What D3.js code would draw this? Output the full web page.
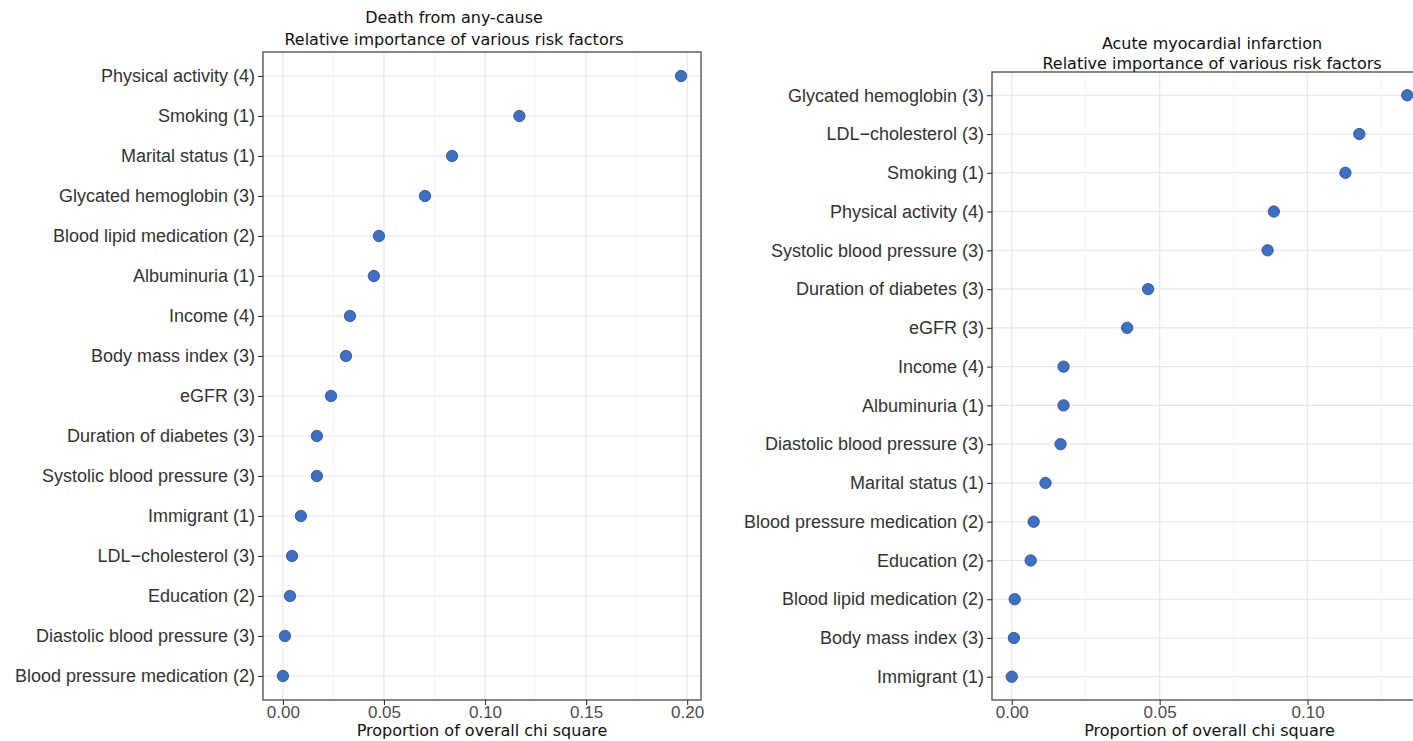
<!DOCTYPE html>
<html>
<head>
<meta charset="utf-8">
<script src="https://cdn.jsdelivr.net/npm/d3@7"></script>
<style>
  body { margin: 0; background: #fff; }
  svg { display: block; font-family: "DejaVu Sans", sans-serif; }
  .grid-major line { stroke: #e6e6e6; stroke-width: 1.1; }
  .grid-minor line { stroke: #f2f2f2; stroke-width: 0.6; }
  .ylab { fill: #333; font-size: 18px; }
  .xlab { fill: #4d4d4d; font-size: 17px; }
  .title { fill: #111; font-size: 16px; }
  .axis-title { fill: #111; font-size: 16px; }
</style>
</head>
<body>
<svg id="chart" width="1413" height="741"></svg>
<script>
'use strict'

// death from any cause
const deathFactors = [
  'Physical activity (4)', 'Smoking (1)', 'Marital status (1)', 'Glycated hemoglobin (3)',
  'Blood lipid medication (2)', 'Albuminuria (1)', 'Income (4)', 'Body mass index (3)',
  'eGFR (3)', 'Duration of diabetes (3)', 'Systolic blood pressure (3)', 'Immigrant (1)',
  'LDL\u2212cholesterol (3)', 'Education (2)', 'Diastolic blood pressure (3)', 'Blood pressure medication (2)'
]
const deathValues = [0.197, 0.117, 0.0837, 0.0703, 0.0475, 0.045, 0.0332, 0.0312,
  0.0238, 0.0168, 0.0168, 0.0089, 0.0045, 0.0035, 0.001, 0.0]
const deathTicks = [0, 0.05, 0.10, 0.15, 0.20]

// acute myocardial infarction
const amiFactors = [
  'Glycated hemoglobin (3)', 'LDL\u2212cholesterol (3)', 'Smoking (1)', 'Physical activity (4)',
  'Systolic blood pressure (3)', 'Duration of diabetes (3)', 'eGFR (3)', 'Income (4)',
  'Albuminuria (1)', 'Diastolic blood pressure (3)', 'Marital status (1)', 'Blood pressure medication (2)',
  'Education (2)', 'Blood lipid medication (2)', 'Body mass index (3)', 'Immigrant (1)'
]
const amiValues = [0.1337, 0.1175, 0.1128, 0.0886, 0.0865, 0.0461, 0.039, 0.0175,
  0.0175, 0.0165, 0.0114, 0.0074, 0.0064, 0.001, 0.0007, 0.0]
const amiTicks = [0, 0.05, 0.10]

const titleLine2 = 'Relative importance of various risk factors'
const xTitle = 'Proportion of overall chi square'

const svg = d3.select('#chart')

function panel(opts) {
  const {factors, values, ticks, left, right, top, bottom, title, titleX, titleY, titleGap} = opts
  const g = svg.append('g')

  const ext = d3.extent(values)
  const pad = (ext[1] - ext[0]) * 0.05
  const x = d3.scaleLinear().domain([ext[0] - pad, ext[1] + pad]).range([left, right])

  // ggplot style discrete scale with 0.6 expansion
  const n = factors.length
  const step = (bottom - top) / (n - 1 + 1.2)
  const y = d3.scalePoint().domain(factors).range([top + 0.6 * step, bottom - 0.6 * step])

  const minor = ticks.slice(0, -1).map((t, i) => (t + ticks[i + 1]) / 2)
  const last = ticks[ticks.length - 1], prev = ticks[ticks.length - 2]
  if (last + (last - prev) / 2 < x.domain()[1]) minor.push(last + (last - prev) / 2)

  g.append('g').attr('class', 'grid-minor')
    .selectAll('line').data(minor).enter().append('line')
    .attr('x1', d => x(d)).attr('x2', d => x(d)).attr('y1', top).attr('y2', bottom)

  g.append('g').attr('class', 'grid-major')
    .selectAll('line').data(ticks).enter().append('line')
    .attr('x1', d => x(d)).attr('x2', d => x(d)).attr('y1', top).attr('y2', bottom)

  g.append('g').attr('class', 'grid-major')
    .selectAll('line').data(factors).enter().append('line')
    .attr('x1', left).attr('x2', right).attr('y1', d => y(d)).attr('y2', d => y(d))

  g.append('rect')
    .attr('x', left).attr('y', top)
    .attr('width', right - left).attr('height', bottom - top)
    .attr('fill', 'none').attr('stroke', '#555').attr('stroke-width', 1.4)

  const yAxis = g.append('g')
    .attr('transform', `translate(${left},0)`)
    .call(d3.axisLeft(y).tickSize(5).tickPadding(3))
  yAxis.select('.domain').remove()
  yAxis.selectAll('line').attr('stroke', '#333').attr('stroke-width', 1.1)
  yAxis.selectAll('text').attr('class', 'ylab').attr('fill', null).attr('font-family', null).attr('font-size', null)

  const xAxis = g.append('g')
    .attr('transform', `translate(0,${bottom})`)
    .call(d3.axisBottom(x).tickValues(ticks).tickFormat(d3.format('.2f')).tickSize(5).tickPadding(1))
  xAxis.select('.domain').remove()
  xAxis.selectAll('line').attr('stroke', '#333').attr('stroke-width', 1.1)
  xAxis.selectAll('text').attr('class', 'xlab').attr('fill', null).attr('font-family', null).attr('font-size', null)

  g.append('g').selectAll('circle')
    .data(factors.map((f, i) => ({f, v: values[i]})))
    .enter().append('circle')
    .attr('cx', d => x(d.v))
    .attr('cy', d => y(d.f))
    .attr('r', 5.7)
    .attr('fill', '#3d6fc4')
    .attr('stroke', '#2c4c88')
    .attr('stroke-width', 0.8)

  g.append('text').attr('class', 'title')
    .attr('x', titleX).attr('y', titleY).attr('text-anchor', 'middle').text(title)
  g.append('text').attr('class', 'title')
    .attr('x', titleX).attr('y', titleY + titleGap).attr('text-anchor', 'middle').text(titleLine2)

  g.append('text').attr('class', 'axis-title')
    .attr('x', (left + right) / 2).attr('y', 736).attr('text-anchor', 'middle').text(xTitle)
}

panel({
  factors: deathFactors, values: deathValues, ticks: deathTicks,
  left: 263, right: 701, top: 52, bottom: 700,
  title: 'Death from any-cause', titleX: 454, titleY: 23, titleGap: 22
})

panel({
  factors: amiFactors, values: amiValues, ticks: amiTicks,
  left: 992, right: 1427, top: 72, bottom: 700,
  title: 'Acute myocardial infarction', titleX: 1212, titleY: 49, titleGap: 20
})
</script>
</body>
</html>
